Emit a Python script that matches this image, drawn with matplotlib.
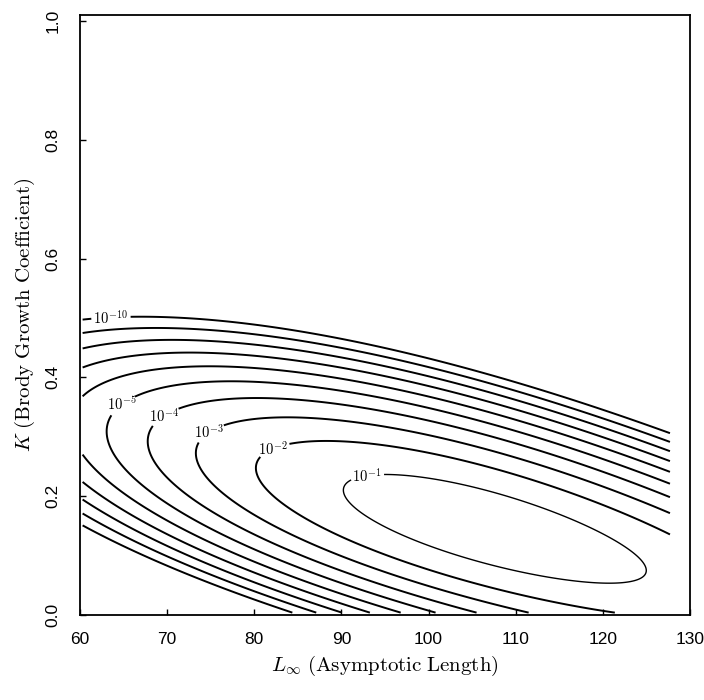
import numpy as np
import matplotlib.pyplot as plt

plt.rcParams['mathtext.fontset'] = 'cm'

# points (L_inf, K); level is 10^-n
c1_L = [90.9, 95.4, 106.3, 115.1, 122.2, 125.1, 118.9, 110.2, 102.5, 94.8]
c1_K = [0.210, 0.232, 0.215, 0.173, 0.126, 0.081, 0.054, 0.079, 0.109, 0.155]
c2_L = [80.9, 84.5, 86.8, 102.0, 115.1, 127.7, 83.3, 91.0, 102.5, 114.0, 127.7]
c2_K = [0.253, 0.286, 0.285, 0.258, 0.214, 0.140, 0.210, 0.126, 0.054, 0.022, 0.006]
c3_L = [73.4, 77.0, 86.8, 98.2, 108.2, 115.1, 127.7, 76.9, 83.0, 112.2]
c3_K = [0.278, 0.320, 0.325, 0.308, 0.278, 0.239, 0.173, 0.205, 0.160, 0.004]
c4_L = [67.5, 71.8, 86.8, 127.7, 67.7, 73.0, 105.9]
c4_K = [0.290, 0.350, 0.355, 0.202, 0.261, 0.160, 0.004]
c5_L = [62.1, 65.7, 86.8, 127.7, 100.8]
c5_K = [0.311, 0.367, 0.382, 0.227, 0.004]
c6_L = [60.6, 86.8, 127.7, 96.7, 60.5]
c6_K = [0.387, 0.404, 0.247, 0.004, 0.261]
c7_L = [60.5, 86.8, 127.7, 93.0, 60.5]
c7_K = [0.426, 0.426, 0.261, 0.004, 0.224]
c8_L = [60.5, 86.8, 127.7, 90.1]
c8_K = [0.451, 0.446, 0.274, 0.004]
c9_L = [60.5, 86.8, 127.7, 87.2, 60.5]
c9_K = [0.473, 0.463, 0.286, 0.004, 0.175]
c10_L = [66.9, 86.8, 127.7, 84.1, 60.5]
c10_K = [0.488, 0.477, 0.300, 0.004, 0.157]

traces_L = [c1_L, c2_L, c3_L, c4_L, c5_L, c6_L, c7_L, c8_L, c9_L, c10_L]
traces_K = [c1_K, c2_K, c3_K, c4_K, c5_K, c6_K, c7_K, c8_K, c9_K, c10_K]
exponents = [1, 2, 3, 4, 5, 6, 7, 8, 9, 10]
# where the 10^-n labels sit
label_pos = {1: (93.0, 0.231), 2: (82.2, 0.280), 3: (74.5, 0.312),
             4: (69.0, 0.344), 5: (63.7, 0.366), 10: (63.6, 0.492)}

x_ticks = [60, 70, 80, 90, 100, 110, 120, 130]
y_ticks = [0.0, 0.2, 0.4, 0.6, 0.8, 1.0]


def basis(L, K):
    x = (np.asarray(L) - 95.0) / 35.0
    y = (np.asarray(K) - 0.25) / 0.25
    return np.stack([x**i * y**j for i in range(4) for j in range(4 - i)], axis=-1)


# smooth -log10(likelihood) surface through the traced points
pts_L = np.concatenate([np.array(a) for a in traces_L])
pts_K = np.concatenate([np.array(a) for a in traces_K])
pts_n = np.concatenate([np.full(len(a), n, float) for a, n in zip(traces_L, exponents)])
coef, *_ = np.linalg.lstsq(basis(pts_L, pts_K), pts_n, rcond=None)

Lg, Kg = np.meshgrid(np.linspace(60.3, 127.7, 400), np.linspace(0.004, 0.75, 400))
Z = basis(Lg, Kg) @ coef

fig = plt.figure(figsize=(7.04, 7.0), dpi=100)
ax = fig.add_axes([80 / 704, 85 / 700, 610 / 704, 600 / 700])

for n in exponents:
    lw = 1.0 if n == 1 else 1.4
    cs = ax.contour(Lg, Kg, Z, levels=[n], colors='black', linewidths=lw)
    if n in label_pos:
        txts = ax.clabel(cs, manual=[label_pos[n]], inline=True,
                         fmt={n: r'$10^{-%d}$' % n}, fontsize=10.5, inline_spacing=3)
        for t in txts:
            t.set_rotation(0)

ax.set_xlim(60, 130)
ax.set_ylim(0, 1.01)
ax.set_xticks(x_ticks)
ax.set_xticklabels([str(v) for v in x_ticks], family='Liberation Sans', fontsize=12.5)
ax.set_yticks(y_ticks)
ax.set_yticklabels(['%.1f' % v for v in y_ticks], family='Liberation Sans',
                   fontsize=12.5, rotation=90, va='center')
ax.tick_params(direction='in', length=4, width=1, pad=14)
ax.tick_params(axis='x', pad=12)
for s in ax.spines.values():
    s.set_linewidth(1.3)

ax.set_xlabel(r'$L_\infty\ \mathrm{(Asymptotic\ Length)}$', fontsize=15, labelpad=5)
ax.set_ylabel(r'$K\ \mathrm{(Brody\ Growth\ Coefficient)}$', fontsize=15, labelpad=6)

fig.savefig('out.png', dpi=100)
